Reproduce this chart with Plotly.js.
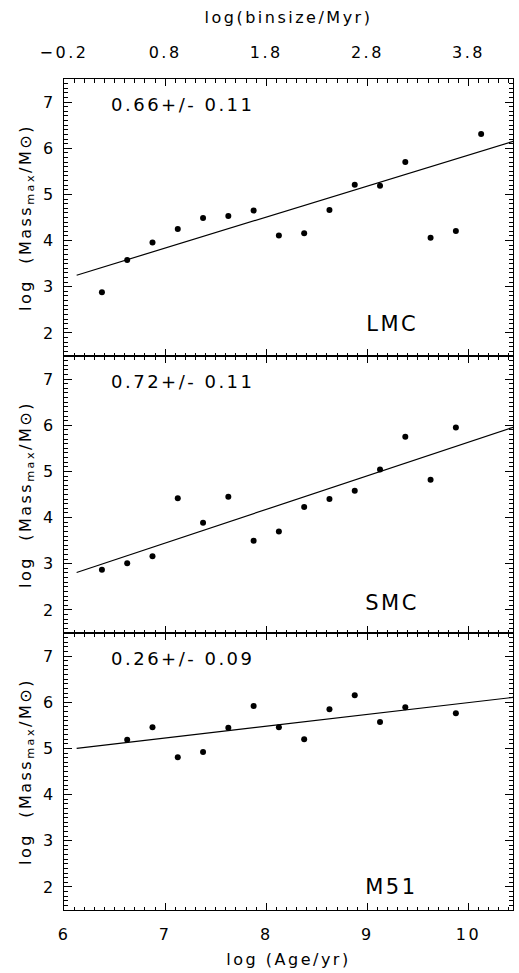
<!DOCTYPE html>
<html>
<head>
<meta charset="utf-8">
<script src="https://cdn.plot.ly/plotly-3.0.1.min.js"></script>
<style>
html,body{margin:0;padding:0;background:#fff;}
.main-svg text{letter-spacing:2.5px;}
</style>
</head>
<body>
<div id="chart" style="width:519px;height:973px;"></div>
<script>
// ---- data ----
const lmcAge  = [6.375, 6.625, 6.875, 7.125, 7.375, 7.625, 7.875, 8.125, 8.375, 8.625, 8.875, 9.125, 9.375, 9.625, 9.875, 10.125];
const lmcMass = [2.88, 3.58, 3.96, 4.25, 4.49, 4.53, 4.65, 4.11, 4.16, 4.66, 5.21, 5.19, 5.70, 4.06, 4.21, 6.31];
const lmcFitAge  = [6.125, 10.5];
const lmcFitMass = [3.25, 6.19];

const smcAge  = [6.375, 6.625, 6.875, 7.125, 7.375, 7.625, 7.875, 8.125, 8.375, 8.625, 8.875, 9.125, 9.375, 9.625, 9.875];
const smcMass = [2.87, 3.01, 3.16, 4.42, 3.89, 4.45, 3.50, 3.70, 4.23, 4.40, 4.58, 5.04, 5.75, 4.82, 5.95];
const smcFitAge  = [6.125, 10.5];
const smcFitMass = [2.81, 6.00];

const m51Age  = [6.625, 6.875, 7.125, 7.375, 7.625, 7.875, 8.125, 8.375, 8.625, 8.875, 9.125, 9.375, 9.875];
const m51Mass = [5.19, 5.46, 4.81, 4.92, 5.45, 5.92, 5.46, 5.20, 5.85, 6.15, 5.57, 5.89, 5.76];
const m51FitAge  = [6.125, 10.5];
const m51FitMass = [5.00, 6.12];

const panelNames = ["LMC", "SMC", "M51"];
const slopeLabels = ["0.66+/- 0.11", "0.72+/- 0.11", "0.26+/- 0.09"];
const binTickVals = [-0.2, 0.8, 1.8, 2.8, 3.8];

// ---- styling ----
const FONT = "DejaVu Sans";
const xRange = [6, 10.44];
const yRange = [1.5, 7.5];
const binOffset = 6.2;

function pts(x, y, xa, ya) {
  return {x: x, y: y, xaxis: xa, yaxis: ya, type: 'scatter', mode: 'markers',
          marker: {color: '#000', size: 6}, showlegend: false, hoverinfo: 'skip'};
}
function fit(x, y, xa, ya) {
  return {x: x, y: y, xaxis: xa, yaxis: ya, type: 'scatter', mode: 'lines',
          line: {color: '#000', width: 1.2}, showlegend: false, hoverinfo: 'skip'};
}

const data = [
  fit(lmcFitAge, lmcFitMass, 'x', 'y'),  pts(lmcAge, lmcMass, 'x', 'y'),
  fit(smcFitAge, smcFitMass, 'x2', 'y2'), pts(smcAge, smcMass, 'x2', 'y2'),
  fit(m51FitAge, m51FitMass, 'x3', 'y3'), pts(m51Age, m51Mass, 'x3', 'y3'),
  // invisible trace to activate top axis
  {x: [xRange[0] - binOffset], y: [yRange[0]], xaxis: 'x4', yaxis: 'y', type: 'scatter', mode: 'markers',
   marker: {opacity: 0}, showlegend: false, hoverinfo: 'skip'}
];

function xAxis(anchor, showLabels) {
  return {
    anchor: anchor, range: xRange, autorange: false,
    showline: true, linecolor: '#000', linewidth: 1, mirror: 'ticks',
    ticks: 'inside', ticklen: 7, tickwidth: 1, tickcolor: '#000',
    tick0: 6, dtick: 1, showgrid: false, zeroline: false,
    minor: {dtick: 0.1, tick0: 6, ticks: 'inside', ticklen: 3.5, tickwidth: 1, tickcolor: '#000', showgrid: false},
    showticklabels: showLabels,
    tickfont: {family: FONT, size: 16, color: '#000'},
    ticklabelstandoff: 10
  };
}
function yAxis(anchor, domain) {
  return {
    anchor: anchor, domain: domain, range: yRange, autorange: false,
    showline: true, linecolor: '#000', linewidth: 1, mirror: 'ticks',
    ticks: 'inside', ticklen: 8, tickwidth: 1, tickcolor: '#000',
    tick0: 2, dtick: 1, showgrid: false, zeroline: false,
    minor: {dtick: 0.1, ticks: 'inside', ticklen: 4, tickwidth: 1, tickcolor: '#000', showgrid: false},
    tickfont: {family: FONT, size: 16, color: '#000'},
    ticklabelstandoff: 4,
    title: {text: 'log  (Mass<sub>max</sub>/M\u2299)', font: {family: FONT, size: 16, color: '#000'}, standoff: 10}
  };
}

const xa1 = xAxis('y', false);
const xa2 = xAxis('y2', false);
const xa3 = xAxis('y3', true);
xa3.title = {text: 'log (Age/yr)', font: {family: FONT, size: 16, color: '#000'}, standoff: 10};

const xa4 = {
  overlaying: 'x', anchor: 'y', side: 'top',
  range: [xRange[0] - binOffset, xRange[1] - binOffset], autorange: false,
  tickmode: 'array', tickvals: binTickVals, ticktext: binTickVals.map(v => v.toFixed(1).replace('-', '\u2212')),
  ticks: 'outside', ticklen: 14, tickcolor: 'rgba(0,0,0,0)',
  showline: false, showgrid: false, zeroline: false,
  tickfont: {family: FONT, size: 16, color: '#000'},
  title: {text: 'log(binsize/Myr)', font: {family: FONT, size: 16, color: '#000'}, standoff: 14}
};

const annotations = [];
const yrefs = ['y', 'y2', 'y3'];
const xrefs = ['x', 'x2', 'x3'];
const nameY = [2.19, 2.16, 1.99];
for (let i = 0; i < 3; i++) {
  annotations.push({xref: xrefs[i], yref: yrefs[i], x: 6.59, y: 6.94, xanchor: 'left', yanchor: 'middle',
    text: slopeLabels[i], showarrow: false, font: {family: FONT, size: 18, color: '#000'}});
  annotations.push({xref: xrefs[i], yref: yrefs[i], x: 9.24, y: nameY[i], xanchor: 'center', yanchor: 'middle',
    text: panelNames[i], showarrow: false, font: {family: FONT, size: 21, color: '#000'}});
}

const layout = {
  width: 519, height: 973,
  margin: {l: 64, r: 6, t: 79, b: 63, pad: 0},
  paper_bgcolor: '#fff', plot_bgcolor: '#fff',
  font: {family: FONT, size: 16, color: '#000'},
  showlegend: false,
  xaxis: xa1, xaxis2: xa2, xaxis3: xa3, xaxis4: xa4,
  yaxis: yAxis('x', [2/3, 1]),
  yaxis2: yAxis('x2', [1/3, 2/3]),
  yaxis3: yAxis('x3', [0, 1/3]),
  annotations: annotations
};

Plotly.newPlot('chart', data, layout, {staticPlot: true, displayModeBar: false});
</script>
</body>
</html>
